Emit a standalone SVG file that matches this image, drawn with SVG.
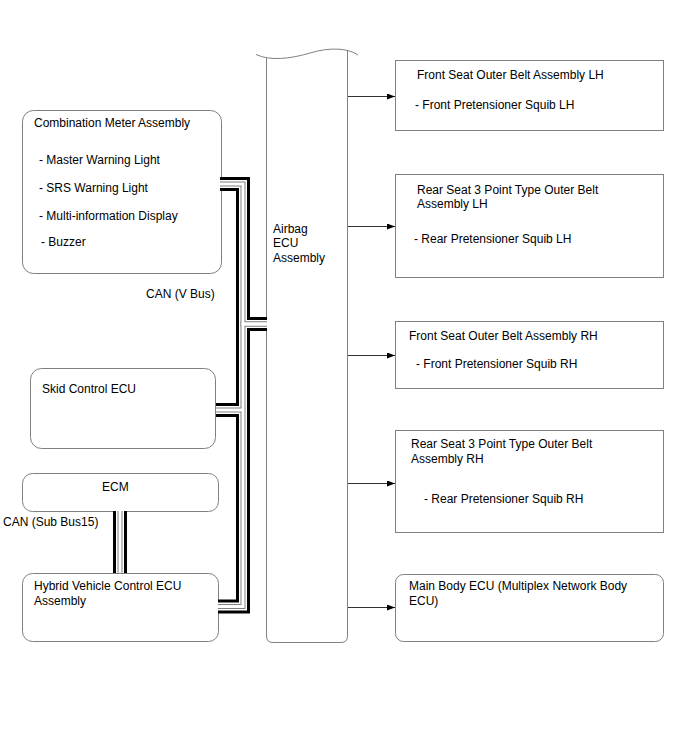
<svg xmlns="http://www.w3.org/2000/svg" xmlns:xlink="http://www.w3.org/1999/xlink" width="688" height="755" viewBox="0 0 688 755">
<style>
text{font-family:"Liberation Sans",Arial,sans-serif;font-size:12px;fill:#000}
.box{fill:#fff;stroke:#808080;stroke-width:1}
.bus{fill:none;stroke-linejoin:miter;stroke-linecap:butt}
.b1{stroke:#000;stroke-width:14}
.b2{stroke:#fff;stroke-width:8}
.b3{stroke:#808080;stroke-width:5}
.b4{stroke:#fff;stroke-width:3}
.arr{fill:none;stroke:#333;stroke-width:1;marker-end:url(#ah)}
</style>
<defs>
<marker id="ah" markerUnits="userSpaceOnUse" markerWidth="8" markerHeight="6" refX="8" refY="3" orient="auto">
<path d="M0,0 L8,3 L0,6 z" fill="#000"/>
</marker>
<path id="busA" d="M220,184 H243 V324 H267"/>
<path id="busB" d="M267,324 H243 V606.5 H218"/>
<path id="busC" d="M216,410 H243"/>
<path id="busD" d="M120,511 V573"/>
</defs>
<rect width="688" height="755" fill="#fff"/>

<g id="airbag">
<path class="box" d="M266.5,58 V636 Q266.5,642.5 273,642.5 H341 Q347.5,642.5 347.5,636 V50.5"/>
<path d="M256,54.5 C270,61 290,59 310,53 C330,47 348,48 358,55" fill="none" stroke="#808080" stroke-width="1"/>
<text x="273" y="233">Airbag</text>
<text x="273" y="247">ECU</text>
<text x="273" y="262">Assembly</text>
</g>

<g id="combination-meter">
<rect class="box" x="22.5" y="110.5" width="199" height="163" rx="11"/>
<text x="34" y="127">Combination Meter Assembly</text>
<text x="39" y="164">- Master Warning Light</text>
<text x="39" y="192">- SRS Warning Light</text>
<text x="39" y="220">- Multi-information Display</text>
<text x="41" y="246">- Buzzer</text>
</g>

<g id="skid-control">
<rect class="box" x="30.5" y="368.5" width="185" height="80" rx="11"/>
<text x="42" y="393">Skid Control ECU</text>
</g>

<g id="ecm">
<rect class="box" x="22.5" y="473.5" width="196" height="38" rx="10"/>
<text x="102" y="491">ECM</text>
</g>

<g id="hybrid">
<rect class="box" x="22.5" y="573.5" width="196" height="68" rx="10"/>
<text x="34" y="590">Hybrid Vehicle Control ECU</text>
<text x="34" y="605">Assembly</text>
</g>

<g id="front-lh">
<rect class="box" x="395.5" y="60.5" width="268" height="70"/>
<text x="417" y="79">Front Seat Outer Belt Assembly LH</text>
<text x="415" y="109">- Front Pretensioner Squib LH</text>
</g>

<g id="rear-lh">
<rect class="box" x="395.5" y="174.5" width="268" height="103"/>
<text x="417" y="194">Rear Seat 3 Point Type Outer Belt</text>
<text x="417" y="208">Assembly LH</text>
<text x="414" y="243">- Rear Pretensioner Squib LH</text>
</g>

<g id="front-rh">
<rect class="box" x="395.5" y="321.5" width="268" height="67"/>
<text x="409" y="340">Front Seat Outer Belt Assembly RH</text>
<text x="416" y="368">- Front Pretensioner Squib RH</text>
</g>

<g id="rear-rh">
<rect class="box" x="395.5" y="430.5" width="268" height="102"/>
<text x="411" y="448">Rear Seat 3 Point Type Outer Belt</text>
<text x="411" y="463">Assembly RH</text>
<text x="424" y="503">- Rear Pretensioner Squib RH</text>
</g>

<g id="main-body">
<rect class="box" x="395.5" y="574.5" width="268" height="67" rx="8"/>
<text x="409" y="590">Main Body ECU (Multiplex Network Body</text>
<text x="409" y="605">ECU)</text>
</g>

<g id="connectors">
<g class="bus b1"><use xlink:href="#busA"/><use xlink:href="#busB"/><use xlink:href="#busC"/><use xlink:href="#busD"/></g>
<g class="bus b2"><use xlink:href="#busA"/><use xlink:href="#busB"/><use xlink:href="#busC"/><use xlink:href="#busD"/></g>
<g class="bus b3"><use xlink:href="#busA"/><use xlink:href="#busB"/><use xlink:href="#busC"/><use xlink:href="#busD"/></g>
<g class="bus b4"><use xlink:href="#busA"/><use xlink:href="#busB"/><use xlink:href="#busC"/><use xlink:href="#busD"/></g>
<path class="arr" d="M348,96.5 H395"/>
<path class="arr" d="M348,226.5 H395"/>
<path class="arr" d="M348,355.5 H395"/>
<path class="arr" d="M348,483.5 H395"/>
<path class="arr" d="M348,607.5 H395"/>
<text x="146" y="298">CAN (V Bus)</text>
<text x="3" y="526">CAN (Sub Bus15)</text>
</g>
</svg>
